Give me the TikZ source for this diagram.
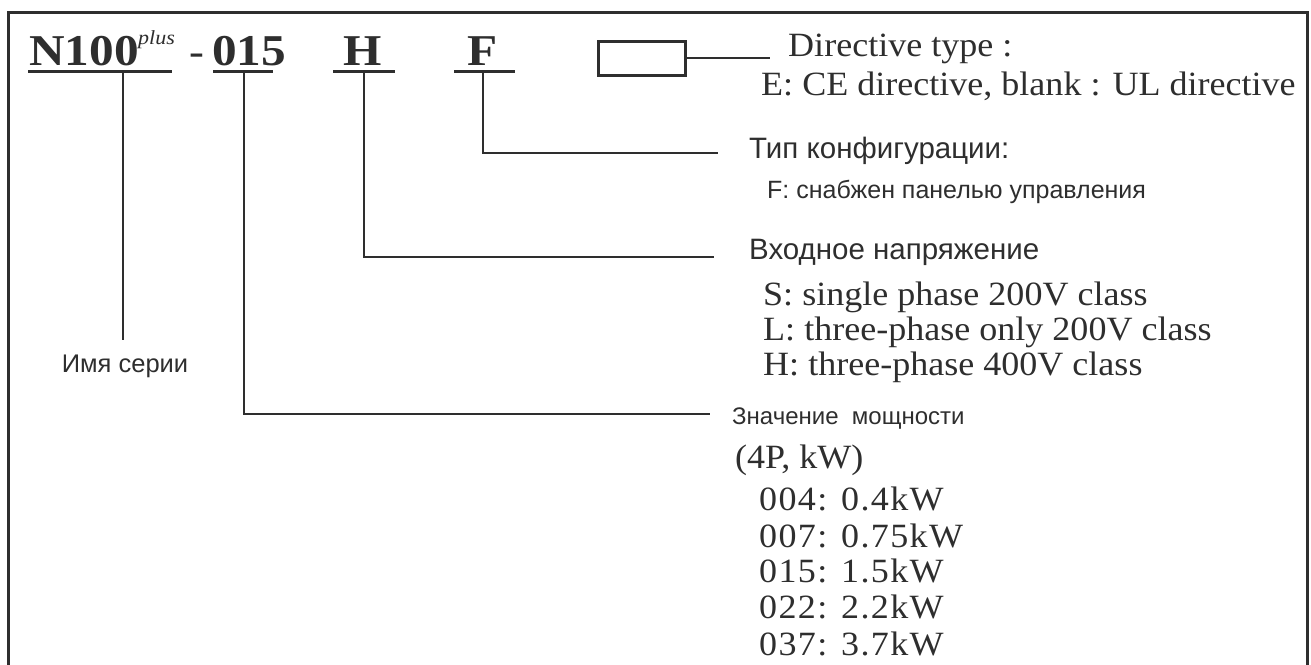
\documentclass[tikz,border=0pt]{standalone}
\usepackage{fontspec}
\setmainfont{Liberation Serif}
\newfontfamily\serifw[FakeStretch=1.06]{Liberation Serif}
\newfontfamily\serifsp[FakeStretch=1.06,LetterSpace=4]{Liberation Serif}
\newfontfamily\boldw[FakeStretch=1.12]{Liberation Serif Bold}
\newfontfamily\plusf[FakeStretch=1.1]{Liberation Serif Italic}
\newfontfamily\sansf{Liberation Sans}
\begin{document}
\begin{tikzpicture}[x=1pt,y=-1pt]
\definecolor{ink}{HTML}{2E2E2E}
\tikzset{
  lbl/.style={inner sep=0pt, anchor=base west, text=ink},
  serif/.style={lbl, font=\serifw\fontsize{34}{34}\selectfont},
  serifnum/.style={lbl, font=\serifsp\fontsize{34}{34}\selectfont},
  sansbig/.style={lbl, font=\sansf\fontsize{29.5}{30}\selectfont},
  sanssmall/.style={lbl, font=\sansf\fontsize{25}{25}\selectfont},
  code/.style={inner sep=0pt, text=ink, font=\boldw\fontsize{44}{44}\selectfont},
  conn/.style={draw=ink, line width=2.4pt},
  uline/.style={draw=ink, line width=3pt},
  frame/.style={draw=ink, line width=3pt},
}
\useasboundingbox (0,0) rectangle (1311,664);
% frame
\draw[frame] (8,666) -- (8,12) -- (1307,12) -- (1307,666);

% code parts
\node[code, anchor=base west] (n100) at (29,65) {N100};
\node[inner sep=0pt, anchor=base west, text=ink, font=\plusf\fontsize{20}{20}\selectfont] (plus) at (138,44) {plus};
\node[inner sep=0pt, anchor=base west, text=ink, font=\serifw\fontsize{42}{42}\selectfont] (dash) at (189,65) {-};
\node[code, anchor=base west] (p015) at (212,65) {015};
\node[code, anchor=base] (ph) at (363,65) {H};
\node[code, anchor=base] (pf) at (483,65) {F};
\node[draw=ink, line width=3pt, minimum width=87pt, minimum height=34pt, inner sep=0pt] (dbox) at (641.5,58) {};

% underlines
\coordinate (un1) at (28,71);  \coordinate (un2) at (172,71);
\coordinate (uo1) at (213,71); \coordinate (uo2) at (273,71);
\coordinate (uh1) at (333,71); \coordinate (uh2) at (395,71);
\coordinate (uf1) at (454,71); \coordinate (uf2) at (515,71);
\draw[uline] (un1) -- (un2);
\draw[uline] (uo1) -- (uo2);
\draw[uline] (uh1) -- (uh2);
\draw[uline] (uf1) -- (uf2);

% labels
\node[serif] (dirt) at (788,56) {Directive type :};
\node[serif] (dire) at (761,95) {E: CE directive, blank : UL directive};
\node[sansbig] (cfg) at (749,158) {Тип конфигурации:};
\node[sanssmall] (cfgf) at (767,198) {F: снабжен панелью управления};
\node[sansbig] (volt) at (749,259) {Входное напряжение};
\node[serif] (vs) at (763,305) {S: single phase 200V class};
\node[serif] (vl) at (763,340) {L: three-phase only 200V class};
\node[serif] (vh) at (763,375) {H: three-phase 400V class};
\node[lbl, font=\sansf\fontsize{24}{24}\selectfont] (pow) at (732,424) {Значение\ \ мощности};
\node[serif] (pkw) at (735,468) {(4P, kW)};
\node[serifnum] (k1) at (759,510) {004: 0.4kW};
\node[serifnum] (k2) at (759,547) {007: 0.75kW};
\node[serifnum] (k3) at (759,582) {015: 1.5kW};
\node[serifnum] (k4) at (759,618) {022: 2.2kW};
\node[serifnum] (k5) at (759,655) {037: 3.7kW};
\node[inner sep=0pt, anchor=base, text=ink, font=\sansf\fontsize{25.5}{26}\selectfont] (series) at (125,372) {Имя серии};

% connectors
\coordinate (dend) at (770,58);
\draw[conn] (dbox.east) -- (dend);
\coordinate (fend) at (718,153);
\draw[conn] (483,71) |- (fend);
\coordinate (hend) at (714,257);
\draw[conn] (364,71) |- (hend);
\coordinate (oend) at (710,414);
\draw[conn] (244,71) |- (oend);
\coordinate (nend) at (123,340);
\draw[conn] (123,71) -- (nend);
\end{tikzpicture}
\end{document}
